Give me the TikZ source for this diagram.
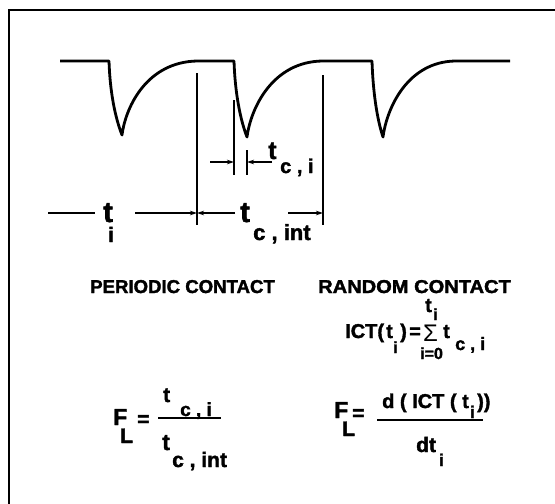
\documentclass[tikz,border=0pt]{standalone}
\usepackage{fontspec}
\setmainfont{Liberation Sans}[BoldFeatures={FakeBold=1.8}]
\usetikzlibrary{arrows.meta}
\newcommand\fsz[1]{\fontsize{#1}{#1}\selectfont\bfseries}
\begin{document}
\begin{tikzpicture}[x=1pt,y=-1pt,
  frame/.style={line width=2pt},
  wave/.style={line width=2.8pt, line join=round},
  thinl/.style={line width=1.2pt},
  dimarrow/.style={line width=1.2pt,-{Stealth[length=7pt,width=4.5pt]}},
  lbl/.style={inner sep=0pt, anchor=base west, text depth=0pt}]
\useasboundingbox (0,0) rectangle (555,504);
% frame (top and left edges only visible)
\coordinate (fr1) at (9,504);
\coordinate (fr2) at (9,10);
\coordinate (fr3) at (556,10);
\draw[frame] (fr1) -- (fr2) -- (fr3);
% waveform
\draw[wave] (60,61) -- (109,61)
  .. controls (110,92) and (115,117) .. (122,135)
  .. controls (126,105) and (148,62) .. (197,61)
  -- (234,61)
  .. controls (235,92) and (240,119) .. (247,137)
  .. controls (251,107) and (273,62) .. (322,61)
  -- (372,61)
  .. controls (373,92) and (377,119) .. (383,137)
  .. controls (387,107) and (408,62) .. (455,61)
  -- (510,61);
% extension lines
\coordinate (v1t) at (197,73);  \coordinate (v1b) at (197,225);
\coordinate (v2t) at (323,75);  \coordinate (v2b) at (323,225);
\coordinate (v3t) at (234,100); \coordinate (v3b) at (234,175);
\coordinate (v4t) at (247,150); \coordinate (v4b) at (247,175);
\draw[thinl] (v1t) -- (v1b);
\draw[thinl] (v2t) -- (v2b);
\draw[thinl] (v3t) -- (v3b);
\draw[thinl] (v4t) -- (v4b);
% t_{c,i} dimension
\coordinate (a1s) at (210,162); \coordinate (a1e) at (234,162);
\coordinate (a2s) at (272,162); \coordinate (a2e) at (247,162);
\draw[dimarrow] (a1s) -- (a1e);
\draw[dimarrow] (a2s) -- (a2e);
\node[lbl,font=\fsz{25}] (tci) at (268,159) {t};
\node[lbl,font=\fsz{20}] (tcisub) at (280,173) {c , i};
% bottom dimension
\coordinate (b0) at (48,213); \coordinate (b1) at (95,213);
\coordinate (b2) at (135,213); \coordinate (b3) at (197,213);
\coordinate (b4) at (235,213); \coordinate (b5) at (288,213);
\coordinate (b6) at (323,213);
\draw[thinl] (b0) -- (b1);
\draw[dimarrow] (b2) -- (b3);
\draw[dimarrow] (b4) -- (b3);
\draw[dimarrow] (b5) -- (b6);
\node[lbl,font=\fsz{29}] (ti) at (103,222) {t};
\node[lbl,font=\fsz{21}] (tisub) at (108,242) {i};
\node[lbl,font=\fsz{29}] (tcint) at (240,222) {t};
\node[lbl,font=\fsz{22}] (tcintsub) at (253,240) {c , int};
% headings
\node[lbl,font=\fsz{18.6}] (per) at (90,293) {PERIODIC CONTACT};
\node[lbl,font=\fsz{18.6}] (ran) at (318,293) {\scalebox{1.08}[1]{RANDOM CONTACT}};
% ICT formula
\node[lbl,font=\fsz{20}] (ict) at (345,338) {ICT(};
\node[lbl,font=\fsz{20}] (ictt) at (386,338) {t};
\node[lbl,font=\fsz{16}] (ictsub) at (393,353) {i};
\node[lbl,font=\fsz{20}] (ictpar) at (400,338) {)};
\node[lbl,font=\fsz{20}] (icteq) at (409,338) {=};
\node[lbl,font=\fsz{24}\mdseries] (sig) at (423,341) {Σ};
\node[lbl,font=\fsz{20}] (sigt) at (443,338) {t};
\node[lbl,font=\fsz{20}] (upt) at (425,312) {t};
\node[lbl,font=\fsz{16}] (upi) at (433,320) {i};
\node[lbl,font=\fsz{16}] (low) at (420,359) {i=0};
\node[lbl,font=\fsz{18}] (sigsub) at (455,350) {c , i};
% left F_L
\node[lbl,font=\fsz{23}] (F1) at (113,425) {F};
\node[lbl,font=\fsz{21}] (L1) at (120,443) {L};
\node[lbl,font=\fsz{21}] (eq1) at (137,426) {=};
\coordinate (fl1a) at (158,418); \coordinate (fl1b) at (221,418);
\draw[thinl] (fl1a) -- (fl1b);
\node[lbl,font=\fsz{21}] (n1t) at (163,402) {t};
\node[lbl,font=\fsz{19}] (n1s) at (180,416) {c , i};
\node[lbl,font=\fsz{23}] (d1t) at (162,450) {t};
\node[lbl,font=\fsz{21}] (d1s) at (172,467) {c , int};
% right F_L
\node[lbl,font=\fsz{23}] (F2) at (334,418) {F};
\node[lbl,font=\fsz{21}] (L2) at (342,436) {L};
\node[lbl,font=\fsz{21}] (eq2) at (352,420) {=};
\coordinate (fl2a) at (377,420); \coordinate (fl2b) at (483,420);
\draw[thinl] (fl2a) -- (fl2b);
\node[lbl,font=\fsz{20}] (n2) at (382,408) {d ( ICT ( t};
\node[lbl,font=\fsz{17}] (n2s) at (470,418) {i};
\node[lbl,font=\fsz{20}] (n2p) at (477,408) {))};
\node[lbl,font=\fsz{21}] (d2) at (416,452) {dt};
\node[lbl,font=\fsz{17}] (d2s) at (439,466) {i};
\end{tikzpicture}
\end{document}
